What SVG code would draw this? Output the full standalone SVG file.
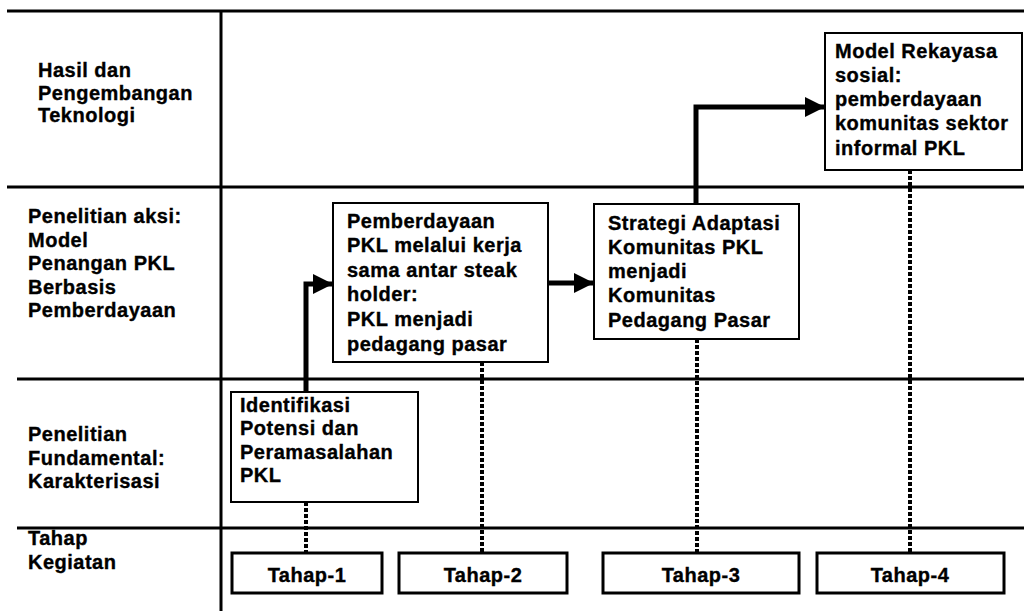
<svg xmlns="http://www.w3.org/2000/svg" width="1024" height="611" viewBox="0 0 1024 611">
<defs>
<style>
text{font-family:"Liberation Sans",Arial,sans-serif;font-weight:bold;font-size:20px;fill:#000;stroke:#000;stroke-width:0.35px;letter-spacing:0.5px}
.grid{stroke:#000;stroke-width:3;fill:none}
.box{fill:#fff;stroke:#000;stroke-width:2}
.tbox{fill:#fff;stroke:#000;stroke-width:3}
.arr{stroke:#000;stroke-width:5;fill:none}
.dot{stroke:#000;stroke-width:4;stroke-dasharray:4 2;fill:none}
.mid{text-anchor:middle}
</style>
<marker id="ah" markerUnits="userSpaceOnUse" markerWidth="20" markerHeight="20" refX="20" refY="10" orient="auto" viewBox="0 0 20 20">
<path d="M0,0 L20,10 L0,20 Z" fill="#000"/>
</marker>
</defs>
<rect width="1024" height="611" fill="#fff"/>
<g id="grid">
<line class="grid" x1="7" y1="11" x2="1024" y2="11"/>
<line class="grid" x1="7" y1="187" x2="1024" y2="187"/>
<line class="grid" x1="17" y1="379" x2="1024" y2="379"/>
<line class="grid" x1="17" y1="528" x2="1024" y2="528"/>
<line class="grid" x1="221" y1="11" x2="221" y2="611"/>
</g>
<g id="row-labels">
<text x="38" y="77">Hasil dan</text>
<text x="38" y="100">Pengembangan</text>
<text x="38" y="122">Teknologi</text>
<text x="28" y="223">Penelitian aksi:</text>
<text x="28" y="247">Model</text>
<text x="28" y="270">Penangan PKL</text>
<text x="28" y="294">Berbasis</text>
<text x="28" y="317">Pemberdayaan</text>
<text x="28" y="441">Penelitian</text>
<text x="28" y="465">Fundamental:</text>
<text x="28" y="488">Karakterisasi</text>
<text x="28" y="545">Tahap</text>
<text x="28" y="569">Kegiatan</text>
</g>
<g id="connectors">
<polyline class="arr" points="306,392 306,284 333,284" marker-end="url(#ah)"/>
<line class="arr" x1="548" y1="283" x2="594" y2="283" marker-end="url(#ah)"/>
<polyline class="arr" points="696,204 696,107 825,107" marker-end="url(#ah)"/>
<line class="dot" x1="306" y1="502" x2="306" y2="553"/>
<line class="dot" x1="482" y1="362" x2="482" y2="553"/>
<line class="dot" x1="697" y1="339" x2="697" y2="553"/>
<line class="dot" x1="910" y1="170" x2="910" y2="553"/>
</g>
<g id="node-model">
<rect class="box" x="825" y="33" width="197" height="137"/>
<text x="835" y="58">Model Rekayasa</text>
<text x="835" y="82">sosial:</text>
<text x="835" y="106">pemberdayaan</text>
<text x="835" y="130">komunitas sektor</text>
<text x="835" y="155">informal PKL</text>
</g>
<g id="node-pemberdayaan">
<rect class="box" x="333" y="203" width="215" height="159"/>
<text x="347" y="228">Pemberdayaan</text>
<text x="347" y="252">PKL melalui kerja</text>
<text x="347" y="277">sama antar steak</text>
<text x="347" y="301">holder:</text>
<text x="347" y="326">PKL menjadi</text>
<text x="347" y="351">pedagang pasar</text>
</g>
<g id="node-strategi">
<rect class="box" x="594" y="204" width="205" height="135"/>
<text x="608" y="230">Strategi Adaptasi</text>
<text x="608" y="254">Komunitas PKL</text>
<text x="608" y="278">menjadi</text>
<text x="608" y="302">Komunitas</text>
<text x="608" y="327">Pedagang Pasar</text>
</g>
<g id="node-identifikasi">
<rect class="box" x="231" y="392" width="187" height="110"/>
<text x="240" y="412">Identifikasi</text>
<text x="240" y="435">Potensi dan</text>
<text x="240" y="459">Peramasalahan</text>
<text x="240" y="482">PKL</text>
</g>
<g id="tahap-1">
<rect class="tbox" x="232" y="553" width="150" height="40"/>
<text class="mid" x="307" y="582">Tahap-1</text>
</g>
<g id="tahap-2">
<rect class="tbox" x="399" y="553" width="168" height="40"/>
<text class="mid" x="483" y="582">Tahap-2</text>
</g>
<g id="tahap-3">
<rect class="tbox" x="603" y="553" width="196" height="40"/>
<text class="mid" x="701" y="582">Tahap-3</text>
</g>
<g id="tahap-4">
<rect class="tbox" x="817" y="553" width="187" height="40"/>
<text class="mid" x="910" y="582">Tahap-4</text>
</g>
</svg>
